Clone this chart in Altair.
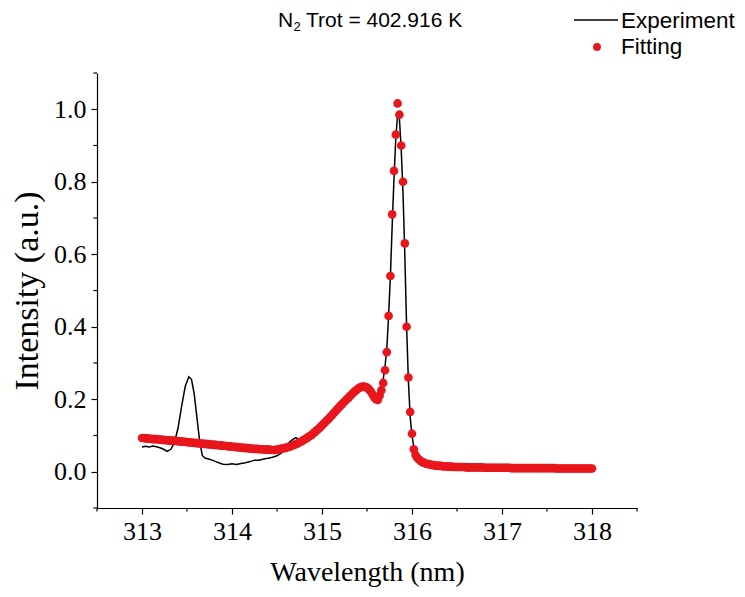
import altair as alt
import numpy as np
import pandas as pd

# ---------------- data ----------------
# fitted spectrum, sampled every 0.02 nm from 313.00 to 318.00 nm
fit_intensity = [
    # 313.00 - 313.48
    0.093, 0.093, 0.092, 0.092, 0.091, 0.091, 0.090, 0.090, 0.090, 0.089,
    0.089, 0.088, 0.088, 0.087, 0.087, 0.086, 0.086, 0.086, 0.085, 0.085,
    0.084, 0.084, 0.083, 0.083, 0.082,
    # 313.50 - 313.98
    0.082, 0.081, 0.081, 0.080, 0.080, 0.079, 0.079, 0.078, 0.078, 0.077,
    0.077, 0.076, 0.076, 0.075, 0.075, 0.074, 0.074, 0.073, 0.073, 0.072,
    0.072, 0.071, 0.071, 0.070, 0.070,
    # 314.00 - 314.48
    0.069, 0.069, 0.068, 0.068, 0.067, 0.067, 0.066, 0.066, 0.065, 0.065,
    0.064, 0.064, 0.063, 0.063, 0.063, 0.062, 0.062, 0.062, 0.061, 0.061,
    0.061, 0.061, 0.060, 0.060, 0.060,
    # 314.50 - 314.98
    0.061, 0.062, 0.063, 0.064, 0.065, 0.066, 0.068, 0.069, 0.071, 0.073,
    0.075, 0.077, 0.080, 0.082, 0.085, 0.088, 0.091, 0.094, 0.098, 0.101,
    0.105, 0.109, 0.114, 0.118, 0.123,
    # 315.00 - 315.48
    0.128, 0.133, 0.138, 0.143, 0.148, 0.153, 0.159, 0.164, 0.170, 0.175,
    0.181, 0.186, 0.191, 0.196, 0.201, 0.206, 0.211, 0.216, 0.221, 0.225,
    0.229, 0.232, 0.234, 0.235, 0.234,
    # 315.50 - 315.98
    0.232, 0.228, 0.222, 0.214, 0.206, 0.200, 0.198, 0.210, 0.225, 0.245,
    0.280, 0.330, 0.430, 0.540, 0.710, 0.830, 0.930, 1.016, 0.985, 0.900,
    0.800, 0.630, 0.400, 0.260, 0.165,
    # 316.00 - 316.48
    0.105, 0.062, 0.046, 0.038, 0.033, 0.029, 0.026, 0.024, 0.022, 0.021,
    0.020, 0.019, 0.018, 0.017, 0.017, 0.016, 0.016, 0.015, 0.015, 0.015,
    0.014, 0.014, 0.014, 0.013, 0.013,
    # 316.50 - 316.98
    0.013, 0.013, 0.013, 0.013, 0.013, 0.012, 0.012, 0.012, 0.012, 0.012,
    0.012, 0.012, 0.012, 0.012, 0.012, 0.011, 0.011, 0.011, 0.011, 0.011,
    0.011, 0.011, 0.011, 0.011, 0.011,
    # 317.00 - 317.48
    0.011, 0.011, 0.011, 0.011, 0.011, 0.010, 0.010, 0.010, 0.010, 0.010,
    0.010, 0.010, 0.010, 0.010, 0.010, 0.010, 0.010, 0.010, 0.010, 0.010,
    0.010, 0.010, 0.010, 0.010, 0.010,
    # 317.50 - 317.98
    0.010, 0.010, 0.010, 0.010, 0.010, 0.009, 0.009, 0.009, 0.009, 0.009,
    0.009, 0.009, 0.009, 0.009, 0.009, 0.009, 0.009, 0.009, 0.009, 0.009,
    0.009, 0.009, 0.009, 0.009, 0.009,
    # 318.00
    0.009,
]
fit_wavelength = np.round(np.linspace(313.0, 318.0, len(fit_intensity)), 2)

# measured spectrum
exp_wavelength = [
    313.00, 313.04, 313.08, 313.12, 313.16, 313.20, 313.24, 313.28, 313.32, 313.36,
    313.40, 313.44, 313.48, 313.52, 313.55, 313.58, 313.61, 313.64, 313.67, 313.70,
    313.74, 313.78, 313.82, 313.86, 313.90, 313.95, 314.00, 314.05, 314.10, 314.15,
    314.20, 314.25, 314.30, 314.35, 314.40, 314.45, 314.50, 314.55, 314.60, 314.64,
    314.68, 314.71, 314.74, 314.77, 314.80, 314.85, 314.90, 315.00, 315.10, 315.20,
    315.30, 315.40, 315.46, 315.50, 315.55, 315.60, 315.62, 315.64, 315.66, 315.68,
    315.70, 315.72, 315.74, 315.76, 315.78, 315.80, 315.82, 315.84, 315.86, 315.88,
    315.90, 315.92, 315.94, 315.96, 315.98, 316.00, 316.02, 316.05, 316.10, 316.15,
    316.20, 316.30, 316.40, 316.60, 316.80, 317.00, 317.50, 318.00,
]
exp_intensity = [
    0.068, 0.070, 0.068, 0.071, 0.069, 0.066, 0.062, 0.056, 0.062, 0.080,
    0.120, 0.180, 0.235, 0.262, 0.255, 0.215, 0.150, 0.085, 0.045, 0.038,
    0.035, 0.032, 0.028, 0.024, 0.021, 0.020, 0.022, 0.020, 0.023, 0.025,
    0.028, 0.032, 0.032, 0.035, 0.037, 0.040, 0.044, 0.052, 0.068, 0.082,
    0.090, 0.094, 0.090, 0.086, 0.090, 0.098, 0.108, 0.130, 0.156, 0.185,
    0.210, 0.230, 0.236, 0.232, 0.220, 0.200, 0.197, 0.206, 0.228, 0.255,
    0.290, 0.340, 0.430, 0.540, 0.680, 0.810, 0.920, 0.985, 0.975, 0.890,
    0.770, 0.600, 0.400, 0.250, 0.150, 0.100, 0.068, 0.052, 0.040, 0.032,
    0.026, 0.020, 0.017, 0.014, 0.012, 0.011, 0.010, 0.009,
]

x_major = [313, 314, 315, 316, 317, 318]
x_minor = [312.5, 313.5, 314.5, 315.5, 316.5, 317.5, 318.5]
y_major = [0.0, 0.2, 0.4, 0.6, 0.8, 1.0]
y_minor = [-0.1, 0.1, 0.3, 0.5, 0.7, 0.9, 1.1]

title_main = "Trot = 402.916 K"
legend_labels = ["Experiment", "Fitting"]

fit_df = pd.DataFrame({"wl": fit_wavelength, "I": fit_intensity})
exp_df = pd.DataFrame({"wl": exp_wavelength, "I": exp_intensity})

# ---------------- style ----------------
RED = "#e8161c"
W, H = 540, 435
SERIF = "Liberation Serif"
SANS = "Liberation Sans"

xscale = alt.Scale(domain=[312.5, 318.5], nice=False, zero=False)
yscale = alt.Scale(domain=[-0.1, 1.1], nice=False, zero=False)

xaxis = alt.Axis(values=x_major, format="d", title="Wavelength (nm)",
                 grid=False, tickSize=6, labelPadding=4, titlePadding=14,
                 titleFontSize=28)
yaxis = alt.Axis(values=y_major, format=".1f", title="Intensity (a.u.)",
                 grid=False, tickSize=6, labelPadding=5, titlePadding=9,
                 titleFontSize=34)

xenc = alt.X("wl:Q", scale=xscale, axis=xaxis)
yenc = alt.Y("I:Q", scale=yscale, axis=yaxis)

line = alt.Chart(exp_df).mark_line(color="black", strokeWidth=1.5).encode(
    x=xenc, y=yenc, order="wl:Q")
points = alt.Chart(fit_df).mark_circle(color=RED, size=75, opacity=1).encode(
    x=xenc, y=yenc)

xminor = alt.Chart(pd.DataFrame({"wl": x_minor})).mark_rule(
    color="black", strokeWidth=1.2).encode(x=xenc, y=alt.value(H), y2=alt.value(H + 3.5))
yminor = alt.Chart(pd.DataFrame({"I": y_minor})).mark_rule(
    color="black", strokeWidth=1.2).encode(y=yenc, x=alt.value(-3.5), x2=alt.value(0))


def label(text, x, y, size, font=SANS, align="left"):
    return alt.Chart(pd.DataFrame({"t": [text]})).mark_text(
        font=font, fontSize=size, align=align, baseline="middle", color="black"
    ).encode(x=alt.value(x), y=alt.value(y), text="t:N")


t_n = label("N", 181, -52, 21)
t_sub = label("2", 196.5, -46, 13)
t_rest = label(title_main, 209, -52, 21)

leg_line = alt.Chart(pd.DataFrame({"k": [0]})).mark_rule(
    color="black", strokeWidth=1.6).encode(
    x=alt.value(477), x2=alt.value(521), y=alt.value(-53))
leg_dot = alt.Chart(pd.DataFrame({"k": [0]})).mark_circle(
    color=RED, size=62, opacity=1).encode(x=alt.value(500), y=alt.value(-26))
leg_t1 = label(legend_labels[0], 524, -52, 22.5)
leg_t2 = label(legend_labels[1], 524, -26, 22.5)

chart = alt.layer(
    line, points, xminor, yminor, t_n, t_sub, t_rest, leg_line, leg_dot, leg_t1, leg_t2
).properties(
    width=W, height=H,
    background="white",
    autosize=alt.AutoSizeParams(type="none"),
    padding={"left": 89, "top": 65, "right": 100, "bottom": 81},
).configure_view(stroke=None).configure_axis(
    domainColor="black", domainWidth=1.2, tickColor="black", tickWidth=1.2,
    labelColor="black", titleColor="black",
    labelFont=SERIF, labelFontSize=26, titleFont=SERIF,
    titleFontWeight="normal",
)

chart.save("out.html", embed_options={"renderer": "svg", "actions": False})
